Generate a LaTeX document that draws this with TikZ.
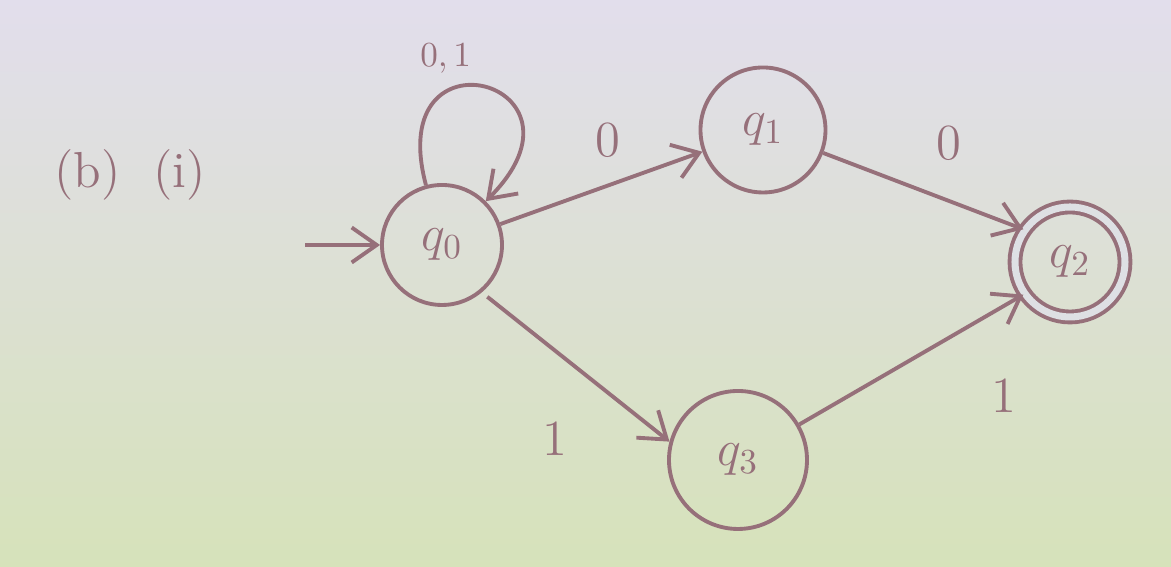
\documentclass[tikz,border=0pt]{standalone}
\usepackage{tikz}
\usetikzlibrary{arrows.meta,positioning,automata}

\definecolor{ink}{RGB}{150,112,122}
\definecolor{bgtop}{RGB}{226,222,236}
\definecolor{bgmid}{RGB}{222,224,228}
\definecolor{bgbot}{RGB}{214,226,186}

\begin{document}
\begin{tikzpicture}[
        state/.style={circle, draw=ink, line width=1.1pt, text=ink, font=\Large, inner sep=0pt},
        accept/.style={state, double=bgmid, double distance=2pt},
        lbl/.style={text=ink, font=\Large},
        line/.style={draw=ink, line width=1.1pt, -{Straight Barb[length=2.5mm,width=3.5mm]}}
    ]
        % background
        \shade [top color=bgtop, middle color=bgmid, bottom color=bgbot] (0,0) rectangle (11.71,5.67);
        \useasboundingbox (0,0) rectangle (11.71,5.67);

        \node [lbl] (part) at (1.30,3.92) {(b)\ \ (i)};

        \node [state, minimum size=1.2cm] (q0) at (4.42,3.22) {$q_0$};
        \node [state, minimum size=1.25cm] (q1) at (7.63,4.37) {$q_1$};
        \node [accept, minimum size=1.1cm] (q2) at (10.70,3.05) {$q_2$};
        \node [state, minimum size=1.38cm] (q3) at (7.38,1.07) {$q_3$};
        \coordinate (start) at (3.05,3.22);

        \path [line] (start) -- (q0);
        \path (q0) edge [line, out=105, in=45, looseness=7] node[lbl, above=0pt, xshift=-11pt, font=\normalsize] {$0,1$} (q0);
        \path [line] (q0) -- node[lbl, above=5pt, xshift=2pt] {$0$} (q1);
        \path [line] (q1) -- node[lbl, above right=5pt and 0pt] {$0$} (q2.145);
        \path [line, shorten <=2pt] (q0.-50) -- node[lbl, below=12pt, xshift=-6pt] {$1$} (q3.165);
        \path [line] (q3) -- node[lbl, below right=2pt and 19pt] {$1$} (q2.215);
    \end{tikzpicture}
\end{document}
